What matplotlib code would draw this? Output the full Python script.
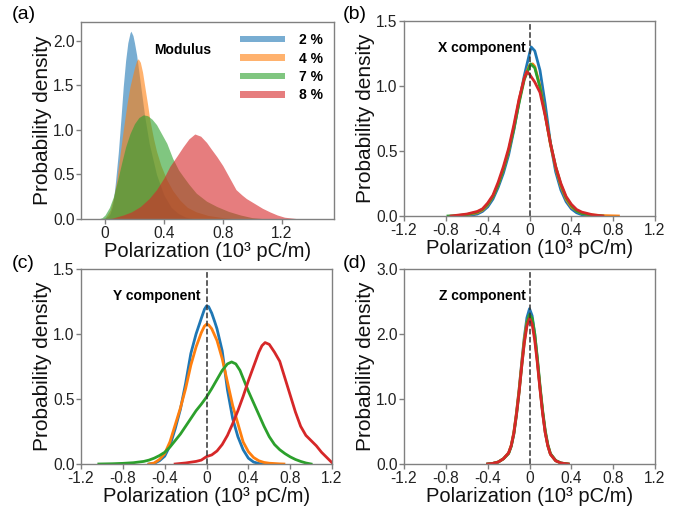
import matplotlib
matplotlib.use("Agg")
import matplotlib.pyplot as plt
from matplotlib.patches import Patch

plt.rcParams['font.family'] = ['Liberation Sans', 'DejaVu Sans']

labels = ["2 %", "4 %", "7 %", "8 %"]
colors = ["#1f77b4", "#ff7f0e", "#2ca02c", "#d62728"]

# (a) Modulus (filled densities)
mod_x = {
    "2 %": [-0.03, 0.0, 0.02, 0.034, 0.05, 0.057, 0.07, 0.09, 0.1, 0.11, 0.124, 0.14, 0.155, 0.17, 0.176, 0.19, 0.2, 0.215, 0.23, 0.25, 0.27, 0.3, 0.35, 0.4, 0.45, 0.5, 0.55, 0.62],
    "4 %": [-0.03, 0.0, 0.034, 0.06, 0.08, 0.1, 0.124, 0.15, 0.17, 0.2, 0.215, 0.226, 0.24, 0.255, 0.27, 0.29, 0.305, 0.33, 0.35, 0.38, 0.42, 0.46, 0.51, 0.56, 0.62, 0.7, 0.8, 0.9],
    "7 %": [-0.06, -0.045, -0.02, 0.0, 0.03, 0.057, 0.085, 0.113, 0.14, 0.17, 0.2, 0.23, 0.26, 0.29, 0.32, 0.35, 0.38, 0.42, 0.46, 0.5, 0.53, 0.57, 0.62, 0.69, 0.76, 0.84, 0.92, 1.0, 1.1],
    "8 %": [0.0, 0.05, 0.124, 0.18, 0.24, 0.3, 0.35, 0.4, 0.44, 0.49, 0.53, 0.57, 0.61, 0.65, 0.69, 0.72, 0.76, 0.8, 0.83, 0.86, 0.89, 0.93, 0.96, 1.0, 1.03, 1.07, 1.12, 1.17, 1.22, 1.3, 1.4],
}
mod_y = {
    "2 %": [0.0, 0.01, 0.03, 0.06, 0.14, 0.21, 0.4, 0.74, 0.95, 1.17, 1.49, 1.78, 1.98, 2.09, 2.11, 2.06, 1.98, 1.84, 1.65, 1.4, 1.15, 0.85, 0.5, 0.27, 0.13, 0.06, 0.02, 0.0],
    "4 %": [0.0, 0.01, 0.1, 0.25, 0.44, 0.7, 1.0, 1.3, 1.49, 1.7, 1.78, 1.8, 1.76, 1.65, 1.49, 1.28, 1.11, 0.9, 0.76, 0.6, 0.44, 0.32, 0.21, 0.13, 0.08, 0.04, 0.015, 0.0],
    "7 %": [0.0, 0.0, 0.015, 0.045, 0.13, 0.25, 0.43, 0.63, 0.81, 0.96, 1.07, 1.14, 1.17, 1.16, 1.12, 1.06, 0.97, 0.85, 0.68, 0.55, 0.48, 0.39, 0.29, 0.2, 0.14, 0.085, 0.045, 0.015, 0.0],
    "8 %": [0.0, 0.01, 0.045, 0.08, 0.14, 0.23, 0.33, 0.46, 0.59, 0.71, 0.81, 0.9, 0.955, 0.93, 0.86, 0.79, 0.7, 0.6, 0.51, 0.42, 0.33, 0.27, 0.23, 0.19, 0.16, 0.12, 0.08, 0.045, 0.02, 0.005, 0.0],
}

# (b) X component
x_x = {
    "2 %": [-0.6, -0.5, -0.45, -0.4, -0.35, -0.3, -0.25, -0.2, -0.15, -0.1, -0.05, 0.0, 0.016, 0.05, 0.1, 0.15, 0.2, 0.25, 0.3, 0.35, 0.4, 0.45, 0.5, 0.6],
    "4 %": [-0.7, -0.6, -0.5, -0.45, -0.4, -0.35, -0.3, -0.25, -0.2, -0.15, -0.1, -0.05, 0.0, 0.03, 0.05, 0.1, 0.15, 0.2, 0.25, 0.3, 0.35, 0.4, 0.45, 0.5, 0.6, 0.7, 0.85],
    "7 %": [-0.78, -0.7, -0.6, -0.5, -0.45, -0.4, -0.35, -0.3, -0.25, -0.2, -0.15, -0.1, -0.05, 0.0, 0.01, 0.05, 0.1, 0.15, 0.2, 0.25, 0.3, 0.35, 0.4, 0.45, 0.5, 0.6, 0.7],
    "8 %": [-0.75, -0.7, -0.6, -0.5, -0.45, -0.4, -0.35, -0.3, -0.25, -0.2, -0.15, -0.1, -0.05, -0.025, 0.0, 0.05, 0.1, 0.15, 0.2, 0.25, 0.3, 0.35, 0.4, 0.45, 0.5, 0.6, 0.7],
}
x_y = {
    "2 %": [0.0, 0.015, 0.035, 0.07, 0.13, 0.22, 0.33, 0.47, 0.66, 0.88, 1.08, 1.25, 1.3, 1.27, 1.12, 0.86, 0.56, 0.34, 0.2, 0.11, 0.055, 0.025, 0.01, 0.0],
    "4 %": [0.0, 0.01, 0.025, 0.045, 0.085, 0.15, 0.24, 0.36, 0.5, 0.68, 0.89, 1.06, 1.16, 1.17, 1.15, 1.0, 0.78, 0.55, 0.37, 0.23, 0.13, 0.07, 0.04, 0.02, 0.008, 0.003, 0.0],
    "7 %": [0.0, 0.003, 0.01, 0.03, 0.05, 0.09, 0.15, 0.24, 0.36, 0.5, 0.67, 0.87, 1.05, 1.15, 1.17, 1.14, 0.99, 0.78, 0.56, 0.38, 0.24, 0.14, 0.08, 0.04, 0.02, 0.006, 0.0],
    "8 %": [0.0, 0.005, 0.015, 0.035, 0.055, 0.1, 0.16, 0.26, 0.38, 0.52, 0.7, 0.9, 1.06, 1.11, 1.09, 1.03, 0.95, 0.77, 0.56, 0.38, 0.25, 0.15, 0.09, 0.05, 0.03, 0.01, 0.0],
}

# (c) Y component
y_x = {
    "2 %": [-0.55, -0.5, -0.45, -0.4, -0.35, -0.3, -0.25, -0.2, -0.15, -0.1, -0.05, -0.02, 0.0, 0.02, 0.05, 0.08, 0.1, 0.15, 0.2, 0.25, 0.3, 0.35, 0.4, 0.45, 0.5, 0.55],
    "4 %": [-0.55, -0.5, -0.45, -0.4, -0.35, -0.3, -0.25, -0.2, -0.15, -0.1, -0.05, -0.02, 0.0, 0.02, 0.05, 0.1, 0.15, 0.2, 0.25, 0.3, 0.35, 0.4, 0.45, 0.5, 0.55, 0.6, 0.7, 0.74],
    "7 %": [-1.03, -0.9, -0.8, -0.7, -0.6, -0.55, -0.5, -0.45, -0.4, -0.35, -0.3, -0.25, -0.2, -0.15, -0.1, -0.05, 0.0, 0.05, 0.1, 0.15, 0.2, 0.24, 0.28, 0.32, 0.36, 0.4, 0.45, 0.5, 0.55, 0.6, 0.65, 0.7, 0.75, 0.8, 0.85, 0.9, 0.95, 1.0],
    "8 %": [-0.3, -0.2, -0.1, -0.05, 0.0, 0.05, 0.1, 0.15, 0.2, 0.25, 0.3, 0.35, 0.4, 0.45, 0.5, 0.53, 0.56, 0.6, 0.65, 0.7, 0.75, 0.8, 0.85, 0.9, 0.95, 1.0, 1.05, 1.1, 1.15, 1.2],
}
y_y = {
    "2 %": [0.0, 0.005, 0.025, 0.06, 0.14, 0.27, 0.42, 0.62, 0.85, 1.0, 1.12, 1.19, 1.215, 1.21, 1.16, 1.09, 1.04, 0.87, 0.57, 0.35, 0.21, 0.11, 0.045, 0.015, 0.004, 0.0],
    "4 %": [0.0, 0.008, 0.035, 0.08, 0.17, 0.3, 0.43, 0.58, 0.76, 0.9, 1.01, 1.06, 1.075, 1.07, 1.04, 0.95, 0.81, 0.63, 0.45, 0.31, 0.17, 0.095, 0.05, 0.025, 0.012, 0.006, 0.001, 0.0],
    "7 %": [0.0, 0.002, 0.005, 0.01, 0.02, 0.03, 0.045, 0.065, 0.09, 0.13, 0.18, 0.23, 0.29, 0.35, 0.41, 0.46, 0.515, 0.58, 0.65, 0.72, 0.77, 0.785, 0.77, 0.72, 0.64, 0.56, 0.47, 0.38, 0.29, 0.21, 0.15, 0.11, 0.08, 0.055, 0.035, 0.02, 0.008, 0.0],
    "8 %": [0.0, 0.008, 0.02, 0.03, 0.057, 0.07, 0.1, 0.15, 0.22, 0.31, 0.41, 0.52, 0.64, 0.75, 0.86, 0.91, 0.934, 0.92, 0.86, 0.79, 0.66, 0.53, 0.4, 0.29, 0.22, 0.18, 0.14, 0.09, 0.05, 0.01],
}

# (d) Z component
z_x = [-0.4, -0.35, -0.3, -0.25, -0.2, -0.175, -0.15, -0.125, -0.1, -0.075, -0.05, -0.025, 0.0, 0.025, 0.05, 0.075, 0.1, 0.125, 0.15, 0.175, 0.2, 0.25, 0.3, 0.37]
z_y = {
    "2 %": [0.0, 0.01, 0.03, 0.08, 0.17, 0.28, 0.48, 0.78, 1.14, 1.56, 1.95, 2.25, 2.39, 2.28, 2.0, 1.6, 1.18, 0.8, 0.49, 0.28, 0.15, 0.05, 0.015, 0.0],
    "4 %": [0.0, 0.01, 0.03, 0.08, 0.17, 0.29, 0.49, 0.79, 1.14, 1.54, 1.92, 2.18, 2.28, 2.2, 1.95, 1.58, 1.17, 0.8, 0.49, 0.28, 0.15, 0.05, 0.015, 0.0],
    "7 %": [0.0, 0.01, 0.03, 0.08, 0.16, 0.27, 0.46, 0.75, 1.1, 1.5, 1.88, 2.17, 2.3, 2.24, 2.0, 1.63, 1.21, 0.83, 0.52, 0.3, 0.16, 0.055, 0.015, 0.0],
    "8 %": [0.0, 0.01, 0.03, 0.08, 0.17, 0.28, 0.47, 0.76, 1.1, 1.5, 1.86, 2.12, 2.24, 2.15, 1.9, 1.55, 1.15, 0.78, 0.48, 0.28, 0.15, 0.05, 0.015, 0.0],
}

sym_ticks = [-1.2, -0.8, -0.4, 0, 0.4, 0.8, 1.2]
sym_ticklabels = ["-1.2", "-0.8", "-0.4", "0", "0.4", "0.8", "1.2"]

fig = plt.figure(figsize=(6.89, 5.08), dpi=100)
axa = fig.add_axes([0.1176, 0.5689, 0.3672, 0.3878])
axb = fig.add_axes([0.5864, 0.5748, 0.3643, 0.3839])
axc = fig.add_axes([0.1176, 0.0866, 0.3643, 0.3839])
axd = fig.add_axes([0.5864, 0.0866, 0.3643, 0.3839])

spine_col = "#808080"
for ax in (axa, axb, axc, axd):
    for s in ax.spines.values():
        s.set_color(spine_col)
        s.set_linewidth(1.0)
    ax.tick_params(axis="both", colors=spine_col, labelcolor="#222222",
                   labelsize=11.2, length=3.5, width=1.0, direction="out", pad=1.2)
    ax.set_xlabel("Polarization (10\u00b3 pC/m)", fontsize=14.5, labelpad=1.0, color="#111111")
    ax.set_ylabel("Probability density", fontsize=15, labelpad=0.5, color="#111111")

# (a)
for lab, c in zip(labels, colors):
    axa.fill_between(mod_x[lab], mod_y[lab], 0, color=c, alpha=0.6, linewidth=0)
axa.set_xlim(-0.163, 1.556)
axa.set_ylim(0, 2.213)
axa.set_xticks([0, 0.4, 0.8, 1.2])
axa.set_xticklabels(["0", "0.4", "0.8", "1.2"])
axa.set_yticks([0, 0.5, 1.0, 1.5, 2.0])
axa.set_yticklabels(["0.0", "0.5", "1.0", "1.5", "2.0"])
axa.text(0.29, 0.86, "Modulus", transform=axa.transAxes, fontsize=10,
         fontweight="bold", ha="left", va="center")
handles = [Patch(facecolor=c, alpha=0.6, edgecolor="none") for c in colors]
axa.legend(handles, labels, loc="upper right", bbox_to_anchor=(1.0, 1.0),
           frameon=False, handlelength=3.24, handleheight=0.36,
           handletextpad=1.0, labelspacing=0.32, borderaxespad=0.5, borderpad=0.3,
           prop={"weight": "bold", "size": 10})

# (b)
for lab, c in zip(labels, colors):
    axb.plot(x_x[lab], x_y[lab], color=c, lw=2)
axb.axvline(0, color="#333333", ls="--", lw=1.1)
axb.set_xlim(-1.2, 1.2)
axb.set_ylim(0, 1.5)
axb.set_xticks(sym_ticks)
axb.set_xticklabels(sym_ticklabels)
axb.set_yticks([0, 0.5, 1.0, 1.5])
axb.set_yticklabels(["0.0", "0.5", "1.0", "1.5"])
axb.text(0.485, 0.86, "X component", transform=axb.transAxes, fontsize=10,
         fontweight="bold", ha="right", va="center")

# (c)
for lab, c in zip(labels, colors):
    axc.plot(y_x[lab], y_y[lab], color=c, lw=2)
axc.axvline(0, color="#333333", ls="--", lw=1.1)
axc.set_xlim(-1.2, 1.2)
axc.set_ylim(0, 1.5)
axc.set_xticks(sym_ticks)
axc.set_xticklabels(sym_ticklabels)
axc.set_yticks([0, 0.5, 1.0, 1.5])
axc.set_yticklabels(["0.0", "0.5", "1.0", "1.5"])
axc.text(0.475, 0.86, "Y component", transform=axc.transAxes, fontsize=10,
         fontweight="bold", ha="right", va="center")

# (d)
for lab, c in zip(labels, colors):
    axd.plot(z_x, z_y[lab], color=c, lw=2)
axd.axvline(0, color="#333333", ls="--", lw=1.1)
axd.set_xlim(-1.2, 1.2)
axd.set_ylim(0, 3.0)
axd.set_xticks(sym_ticks)
axd.set_xticklabels(sym_ticklabels)
axd.set_yticks([0, 1.0, 2.0, 3.0])
axd.set_yticklabels(["0.0", "1.0", "2.0", "3.0"])
axd.text(0.485, 0.86, "Z component", transform=axd.transAxes, fontsize=10,
         fontweight="bold", ha="right", va="center")

# panel labels
fig.text(0.017, 0.972, "(a)", fontsize=14, ha="left", va="center")
fig.text(0.497, 0.972, "(b)", fontsize=14, ha="left", va="center")
fig.text(0.017, 0.482, "(c)", fontsize=14, ha="left", va="center")
fig.text(0.497, 0.482, "(d)", fontsize=14, ha="left", va="center")

fig.savefig("out.png", dpi=100)
